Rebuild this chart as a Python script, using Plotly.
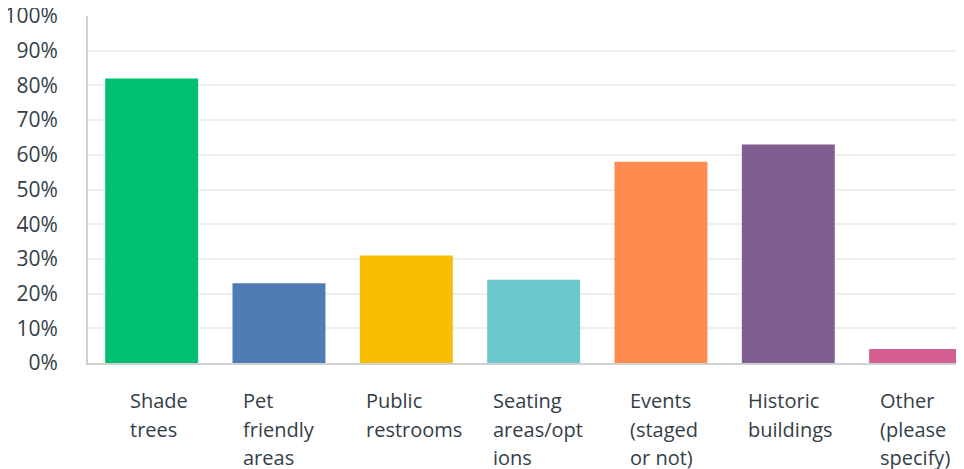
import plotly.graph_objects as go

categories = ["Shade trees", "Pet friendly areas", "Public restrooms",
              "Seating areas/options", "Events (staged or not)",
              "Historic buildings", "Other (please specify)"]
label_lines = [["Shade", "trees"], ["Pet", "friendly", "areas"],
               ["Public", "restrooms"], ["Seating", "areas/opt", "ions"],
               ["Events", "(staged", "or not)"], ["Historic", "buildings"],
               ["Other", "(please", "specify)"]]
values = [82, 23, 31, 24, 58, 63, 4]
colors = ["#00bf6f", "#507cb6", "#f9be00", "#6bc8cd", "#ff8b4f", "#7f5f90", "#d25f90"]
y_ticks = [0, 10, 20, 30, 40, 50, 60, 70, 80, 90, 100]
y_tick_labels = [f"{v}%" for v in y_ticks]

FONT = "Open Sans"
TXT = "#333e48"
LINE_H = 28.5
BAR_W = 0.73          # bar width in category units
BAR_PX = 93           # approx bar width in pixels
CHAR_PX = 9.5         # approx label character width in pixels

fig = go.Figure()
fig.add_trace(go.Bar(
    x=list(range(len(categories))), y=values,
    marker=dict(color=colors, line=dict(width=0)),
    width=BAR_W, hoverinfo="skip", showlegend=False,
))

annotations = []
for i, lines in enumerate(label_lines):
    block_w = max(len(l) for l in lines) * CHAR_PX
    pad = max((BAR_PX - block_w) / 2, 0) + 2
    for k, line in enumerate(lines):
        annotations.append(dict(
            x=i - BAR_W / 2, xref="x", y=0, yref="paper",
            yanchor="top", xanchor="left", xshift=pad - 2,
            yshift=-22 - k * LINE_H, text=line, align="left",
            showarrow=False,
            font=dict(family=FONT, size=20, color=TXT),
        ))

fig.update_layout(
    width=956, height=461,
    margin=dict(l=80, r=0, t=8, b=106),
    paper_bgcolor="white", plot_bgcolor="white",
    annotations=annotations,
    xaxis=dict(range=[-0.5, 6.38], showticklabels=False, showgrid=False,
               zeroline=False, showline=True, linecolor="#d0d0d0", linewidth=2,
               fixedrange=True, automargin=False),
    yaxis=dict(range=[0, 100], tickvals=y_ticks, ticktext=y_tick_labels,
               showgrid=True, gridcolor="#efefef", gridwidth=1.5,
               zeroline=False, showline=True, linecolor="#d0d0d0", linewidth=2,
               ticks="", ticklabelstandoff=24, ticklabeloverflow="allow",
               automargin=False,
               tickfont=dict(family=FONT, size=21, color=TXT), fixedrange=True),
)

fig.write_html("out.html", config={"displayModeBar": False})
